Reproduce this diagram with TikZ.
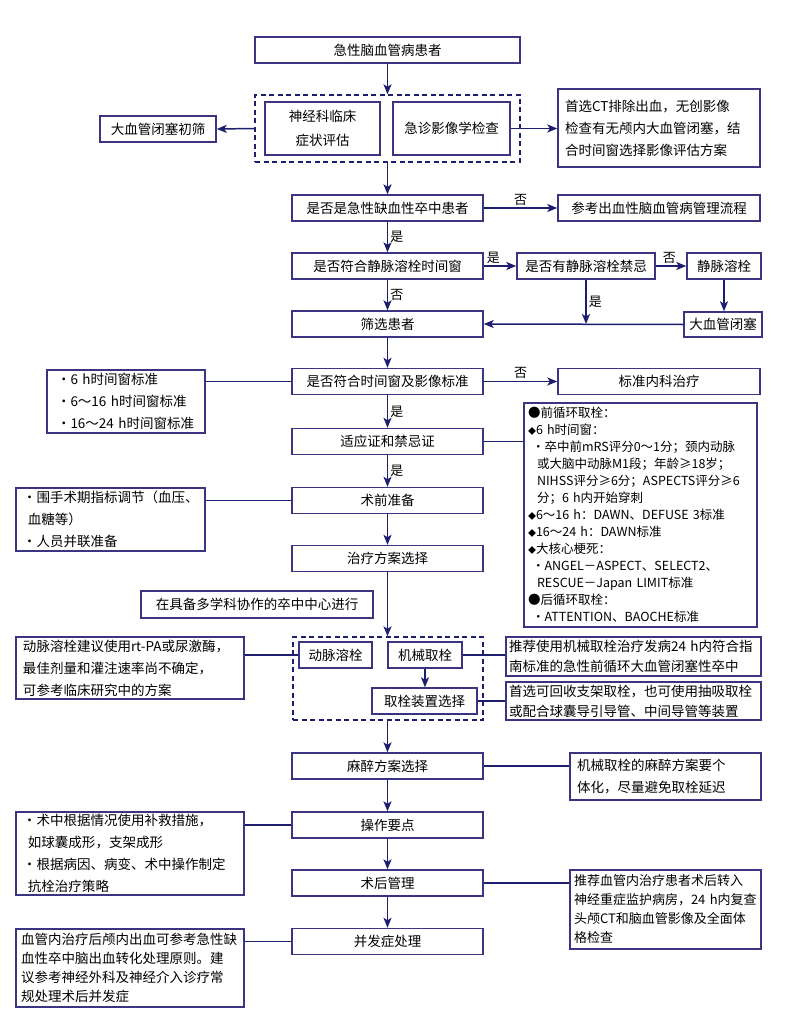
\documentclass[tikz,border=0pt]{standalone}
\usepackage{fontspec}
\setmainfont{Noto Sans CJK SC}
\usetikzlibrary{arrows.meta,calc}
\definecolor{boxc}{RGB}{58,52,130}
\definecolor{linec}{RGB}{30,30,110}
\begin{document}
\begin{tikzpicture}[x=1pt,y=-1pt,
 mainbox/.style={draw=boxc,line width=1.4pt,minimum width=191pt,minimum height=26pt,inner sep=0pt,align=center,font=\fontsize{13.5}{16}\selectfont},
 box/.style={draw=boxc,line width=1.4pt,inner sep=0pt,align=center,font=\fontsize{13.5}{16}\selectfont},
 sbox/.style={draw=boxc,line width=1.4pt,inner xsep=7pt,inner ysep=0pt,align=left,font=\fontsize{13.5}{22}\selectfont},
 dbox/.style={draw=linec,line width=1.4pt,dash pattern=on 5pt off 3.5pt,inner sep=0pt},
 arr/.style={draw=linec,line width=1.5pt,-{Stealth[length=10pt,width=8pt,inset=2.5pt]}},
 ln/.style={draw=linec,line width=1.5pt},
 lab/.style={font=\fontsize{13}{13}\selectfont,inner sep=2pt}
]
\fill[white] (0,0) rectangle (809,1019);
\path[use as bounding box] (0,0) rectangle (809,1019);

% top
\node[box,minimum width=265pt,minimum height=26pt] (n1) at (387.5,50) {急性脑血管病患者};
\node[dbox,minimum width=265pt,minimum height=67pt] (d1) at (387.5,128.5) {};
\node[box,minimum width=115pt,minimum height=53pt,font=\fontsize{13.5}{24}\selectfont] (n2a) at (322.5,128.5) {神经科临床\\症状评估};
\node[box,minimum width=117pt,minimum height=53pt] (n2b) at (451.5,128.5) {急诊影像学检查};
\node[box,minimum width=116pt,minimum height=26pt] (n2l) at (158,129) {大血管闭塞初筛};
\node[sbox,text width=188pt,minimum height=78pt] (n2r) at (659,128) {首选CT排除出血，无创影像\\检查有无颅内大血管闭塞，结\\合时间窗选择影像评估方案};

\node[mainbox] (n3) at (387.5,208) {是否是急性缺血性卒中患者};
\node[box,minimum width=202pt,minimum height=26pt] (n3r) at (659,208) {参考出血性脑血管病管理流程};
\node[mainbox] (n4) at (387.5,266) {是否符合静脉溶栓时间窗};
\node[box,minimum width=138pt,minimum height=26pt] (n4b) at (586,266) {是否有静脉溶栓禁忌};
\node[box,minimum width=74pt,minimum height=26pt] (n4c) at (724,266) {静脉溶栓};
\node[mainbox] (n5) at (387.5,324) {筛选患者};
\node[box,minimum width=78pt,minimum height=25pt] (n5r) at (723,324.5) {大血管闭塞};

\node[mainbox] (n6) at (387.5,381.5) {是否符合时间窗及影像标准};
\node[sbox,text width=146pt,minimum height=63pt,inner xsep=6pt] (n6l) at (126,401.5) {\hspace{4pt}·6~h时间窗标准\\\hspace{4pt}·6～16~h时间窗标准\\\hspace{4pt}·16～24~h时间窗标准};
\node[box,minimum width=202pt,minimum height=26pt] (n6r) at (659,381.5) {标准内科治疗};
\node[mainbox] (n7) at (387.5,441.5) {适应证和禁忌证};
\node[sbox,text width=225pt,minimum height=224pt,inner xsep=4pt,font=\fontsize{12.5}{17}\selectfont] (big) at (640.5,515) {%
●前循环取栓：\\
{\fontsize{8}{8}\selectfont ◆}6~h时间窗：\\
\hspace{4pt}·卒中前mRS评分0～1分；颈内动脉\\
\hspace{9pt}或大脑中动脉M1段；年龄≥18岁；\\
\hspace{9pt}NIHSS评分≥6分；ASPECTS评分≥6\\
\hspace{9pt}分；6~h内开始穿刺\\
{\fontsize{8}{8}\selectfont ◆}6～16~h：DAWN、DEFUSE~3标准\\
{\fontsize{8}{8}\selectfont ◆}16～24~h：DAWN标准\\
{\fontsize{8}{8}\selectfont ◆}大核心梗死：\\
\hspace{4pt}·ANGEL－ASPECT、SELECT2、\\
\hspace{9pt}RESCUE－Japan~LIMIT标准\\
●后循环取栓：\\
\hspace{4pt}·ATTENTION、BAOCHE标准};

\node[mainbox] (n8) at (387.5,500.5) {术前准备};
\node[sbox,text width=175pt,minimum height=63pt] (n8l) at (110.5,519.5) {·围手术期指标调节（血压、\\\hspace{5pt}血糖等）\\·人员并联准备};
\node[mainbox] (n9) at (387.5,558.5) {治疗方案选择};
\node[box,minimum width=232pt,minimum height=27pt] (note) at (257,604.5) {在具备多学科协作的卒中中心进行};

\node[dbox,minimum width=190pt,minimum height=83pt] (d2) at (388,678.5) {};
\node[box,minimum width=73pt,minimum height=26pt] (n10a) at (335.5,655) {动脉溶栓};
\node[box,minimum width=74pt,minimum height=26pt] (n10b) at (425,655) {机械取栓};
\node[box,minimum width=105pt,minimum height=26pt] (n10c) at (424.5,701) {取栓装置选择};
\node[sbox,text width=214pt,minimum height=62pt] (n10l) at (130,668) {动脉溶栓建议使用rt-PA或尿激酶，\\最佳剂量和灌注速率尚不确定，\\可参考临床研究中的方案};
\node[sbox,text width=249pt,minimum height=39pt,inner xsep=3pt,font=\fontsize{13.5}{20}\selectfont] (n10r1) at (633.5,656.5) {推荐使用机械取栓治疗发病24~h内符合指\\南标准的急性前循环大血管闭塞性卒中};
\node[sbox,text width=249pt,minimum height=38pt,inner xsep=3pt,font=\fontsize{13.5}{20}\selectfont] (n10r2) at (633.5,701) {首选可回收支架取栓，也可使用抽吸取栓\\或配合球囊导引导管、中间导管等装置};

\node[mainbox] (n11) at (387.5,766) {麻醉方案选择};
\node[sbox,text width=177pt,minimum height=47pt] (n11r) at (665.5,776.5) {机械取栓的麻醉方案要个\\体化，尽量避免取栓延迟};
\node[mainbox] (n12) at (387.5,825) {操作要点};
\node[sbox,text width=214pt,minimum height=83pt] (n12l) at (130,853.5) {·术中根据情况使用补救措施，\\\hspace{5pt}如球囊成形，支架成形\\·根据病因、病变、术中操作制定\\\hspace{5pt}抗栓治疗策略};
\node[mainbox] (n13) at (387.5,883) {术后管理};
\node[sbox,text width=183pt,minimum height=79pt,inner xsep=4pt,font=\fontsize{13}{19}\selectfont] (n13r) at (665.5,909.5) {推荐血管内治疗患者术后转入\\神经重症监护病房，24~h内复查\\头颅CT和脑血管影像及全面体\\格检查};
\node[mainbox] (n14) at (387.5,941.5) {并发症处理};
\node[sbox,text width=218pt,minimum height=78pt,inner xsep=5pt,font=\fontsize{13.5}{19}\selectfont] (n14l) at (130,968) {血管内治疗后颅内出血可参考急性缺\\血性卒中脑出血转化处理原则。建\\议参考神经外科及神经介入诊疗常\\规处理术后并发症};

% connectors
\draw[arr] (n1.south) -- (d1.north);
\draw[arr] (d1.west) -- (n2l.east);
\draw[arr] (n2b.east) -- (n2b.east -| n2r.west);
\draw[arr] (d1.south) -- (n3.north);
\draw[arr] (n3.east) -- node[lab,above]{否} (n3r.west);
\draw[arr] (n3.south) -- node[lab,right]{是} (n4.north);
\draw[arr] (n4.east) -- node[lab,above,pos=0.3]{是} (n4b.west);
\draw[arr] (n4b.east) -- node[lab,above,pos=0.45]{否} (n4c.west);
\draw[arr] (n4.south) -- node[lab,right]{否} (n5.north);
\draw[arr] (n4c.south) -- (n4c.south |- n5r.north);
\draw[arr] (n5r.west) -- (n5.east);
\draw[arr] (n4b.south) -- node[lab,right]{是} (n4b.south |- n5.east);
\draw[arr] (n5.south) -- (n6.north);
\draw[ln] (n6.west) -- (n6.west -| n6l.east);
\draw[arr] (n6.east) -- node[lab,above]{否} (n6r.west);
\draw[arr] (n6.south) -- node[lab,right]{是} (n7.north);
\draw[ln] (n7.east) -- (n7.east -| big.west);
\draw[arr] (n7.south) -- node[lab,right]{是} (n8.north);
\draw[ln] (n8.west) -- (n8.west -| n8l.east);
\draw[arr] (n8.south) -- (n9.north);
\draw[arr] (n9.south) -- (n9.south |- d2.north);
\draw[ln] (n10a.west) -- (n10a.west -| n10l.east);
\draw[ln] (n10b.east) -- (n10b.east -| n10r1.west);
\draw[arr] (n10b.south) -- (n10b.south |- n10c.north);
\draw[ln] (n10c.east) -- (n10c.east -| n10r2.west);
\draw[arr] (d2.south -| n11.north) -- (n11.north);
\draw[ln] (n11.east) -- (n11.east -| n11r.west);
\draw[arr] (n11.south) -- (n12.north);
\draw[ln] (n12.west) -- (n12.west -| n12l.east);
\draw[arr] (n12.south) -- (n13.north);
\draw[ln] (n13.east) -- (n13.east -| n13r.west);
\draw[arr] (n13.south) -- (n14.north);
\draw[ln] (n14.west) -- (n14.west -| n14l.east);
\end{tikzpicture}
\end{document}
